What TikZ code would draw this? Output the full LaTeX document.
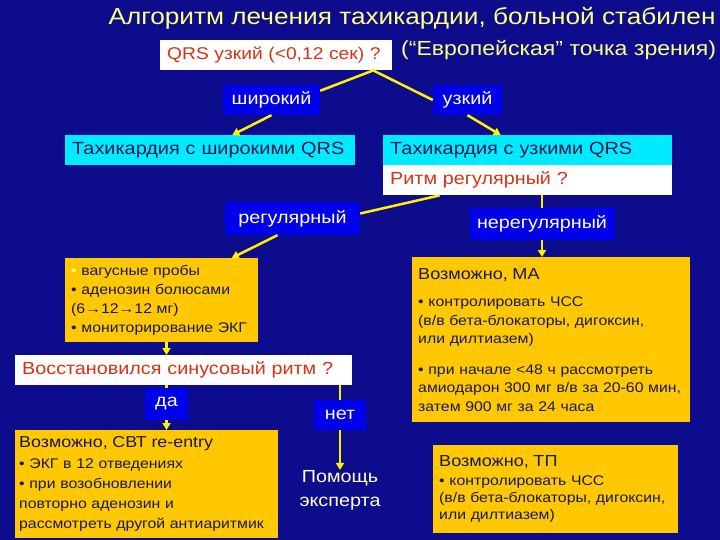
\documentclass[tikz,border=0pt]{standalone}
\usepackage{fontspec}
\setmainfont{Liberation Sans}[FakeStretch=1.13]
\usetikzlibrary{arrows.meta,calc,positioning}
\definecolor{bgblue}{RGB}{12,12,140}
\definecolor{lblblue}{RGB}{0,0,235}
\definecolor{boxcyan}{RGB}{0,235,255}
\definecolor{boxorange}{RGB}{255,200,0}
\definecolor{qred}{RGB}{215,50,20}
\definecolor{paleyel}{RGB}{255,255,130}
\definecolor{lbltext}{RGB}{255,255,215}
\definecolor{inktext}{RGB}{25,25,80}

\begin{document}
\begin{tikzpicture}[x=1pt,y=-1pt,
lbl/.style={fill=lblblue,text=lbltext,inner sep=0pt,font=\fontsize{17.5}{21}\selectfont},
qbox/.style={fill=white,text=qred,anchor=north west,inner xsep=7pt,inner ysep=0pt,align=left},
cbox/.style={fill=boxcyan,text=inktext,anchor=north west,inner xsep=7pt,inner ysep=0pt,align=left,font=\fontsize{17.6}{20}\selectfont},
obox/.style={fill=boxorange,text=inktext,anchor=north west,inner xsep=6pt,inner ysep=3pt,align=left},
link/.style={draw=yellow,line width=2.5pt},
arr/.style={link,-{Triangle[length=7pt,width=8pt]}}]
\fill[bgblue] (0,0) rectangle (720,540);
% title
\node[text=paleyel,inner sep=0pt,font=\fontsize{23.2}{28}\selectfont] (title) at (412,18) {Алгоритм лечения тахикардии, больной стабилен};
\node[text=paleyel,inner sep=0pt,anchor=west,font=\fontsize{20.4}{24}\selectfont] (euro) at (401,50) {(“Европейская” точка зрения)};
% first question
\node[qbox,text width=218pt,minimum height=30pt,font=\fontsize{17}{20}\selectfont] (qrs) at (160,40) {QRS узкий (<0,12 сек) ?};
\node[lbl,minimum width=97pt,minimum height=30pt] (shir) at (271.5,100) {широкий};
\node[lbl,minimum width=69pt,minimum height=30pt] (uzk) at (467.5,100) {узкий};
\node[cbox,text width=276pt,minimum height=30pt] (wide) at (65,135) {Тахикардия с широкими QRS};
\node[cbox,text width=275pt,minimum height=30pt] (narrow) at (383,135) {Тахикардия с узкими QRS};
\node[qbox,text width=275pt,minimum height=30pt,font=\fontsize{17.5}{21}\selectfont] (rhythm) at (383,165) {Ритм регулярный ?};
\node[lbl,minimum width=135pt,minimum height=33pt] (reg) at (292.5,218.5) {регулярный};
\node[lbl,minimum width=145pt,minimum height=32pt] (nreg) at (542,224) {нерегулярный};
% regular branch
\node[obox,text width=181pt,minimum height=84pt,font=\fontsize{14}{19}\selectfont] (vag) at (65,258)
  {{\color{paleyel}•} вагусные пробы\\ • аденозин болюсами\\ (6→12→12 мг)\\ • мониторирование ЭКГ};
\node[qbox,text width=323pt,minimum height=30pt,font=\fontsize{17.5}{21}\selectfont] (sinus) at (15,355) {Восстановился синусовый ритм ?};
\node[lbl,minimum width=43pt,minimum height=32pt] (da) at (166.5,404) {да};
\node[lbl,minimum width=52pt,minimum height=30pt] (net) at (340,415) {нет};
\node[text=lbltext,inner sep=0pt,align=center,font=\fontsize{17.5}{24}\selectfont] (help) at (340,490) {Помощь\\эксперта};
\node[obox,inner xsep=4pt,text width=255pt,minimum height=108pt,font=\fontsize{14}{20}\selectfont] (svt) at (15,430)
  {{\fontsize{15.8}{20}\selectfont Возможно, СВТ re-entry}\\[1pt] • ЭКГ в 12 отведениях\\ • при возобновлении\\ повторно аденозин и\\ рассмотреть другой антиаритмик};
% irregular branch
\node[obox,text width=266pt,minimum height=165pt,font=\fontsize{14}{18.5}\selectfont] (ma) at (412,257)
  {{\fontsize{16}{20}\selectfont Возможно, МА}\\[9pt] • контролировать ЧСС\\ (в/в бета-блокаторы, дигоксин,\\ или дилтиазем)\\[12pt] • при начале <48 ч рассмотреть\\ амиодарон 300 мг в/в за 20-60 мин,\\ затем 900 мг за 24 часа};
\node[obox,text width=233pt,minimum height=88pt,font=\fontsize{14}{17}\selectfont] (tp) at (433,445)
  {{\fontsize{16}{20}\selectfont Возможно, ТП}\\[2pt] • контролировать ЧСС\\ (в/в бета-блокаторы, дигоксин,\\ или дилтиазем)};
% connectors
\draw[link] ([xshift=97pt]qrs.south) -- ([yshift=-6pt]shir.north east);
\draw[link] ([xshift=97pt]qrs.south) -- (uzk.west);
\draw[arr] (shir.south) -- ([xshift=22pt]wide.north);
\draw[arr] (uzk.south) -- ([xshift=-27pt]narrow.north);
\draw[link] ([xshift=-88pt]rhythm.south) -- ([yshift=5pt]reg.east);
\draw[link] (nreg.north |- rhythm.south) -- (nreg.north);
\draw[arr] ([xshift=-15pt]reg.south) -- ([xshift=70pt]vag.north);
\draw[arr] (nreg.south) -- (nreg.south |- ma.north);
\draw[arr] (da.north |- vag.south) -- (da.north |- sinus.north);
\draw[link] (da.north |- sinus.south) -- (da.north);
\draw[arr] (da.south) -- (da.south |- svt.north);
\draw[link] (net.north |- sinus.south) -- (net.north);
\draw[arr] (net.south) -- (help.north);
\end{tikzpicture}
\end{document}
